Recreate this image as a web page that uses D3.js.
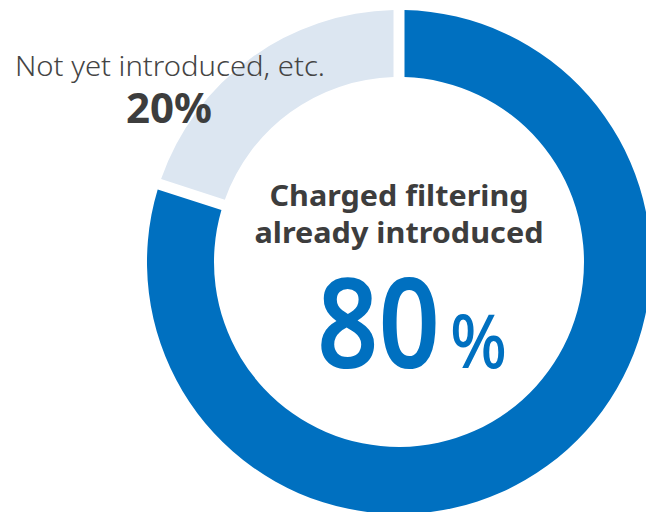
<!DOCTYPE html>
<html>
<head>
<meta charset="utf-8">
<script src="https://cdn.jsdelivr.net/npm/d3@7"></script>
<style>
  html, body { margin: 0; padding: 0; background: #ffffff; }
  svg { display: block; }
</style>
</head>
<body>
<svg id="chart" width="646" height="512"></svg>
<script>
// Share of respondents by status of charged filtering
const categories = ["Charged filtering already introduced", "Not yet introduced, etc."];
const values = [80, 20];
const colors = ["#0070c0", "#dce6f1"];

const svg = d3.select("#chart");
const cx = 399, cy = 262;
const outerR = 252, innerR = 185;

const pie = d3.pie().sort(null).value(d => d);
const arc = d3.arc()
  .innerRadius(innerR)
  .outerRadius(outerR)
  .padRadius(outerR)
  .padAngle(11 / outerR);

const g = svg.append("g").attr("transform", `translate(${cx},${cy})`);

g.selectAll("path")
  .data(pie(values))
  .join("path")
  .attr("d", arc)
  .attr("fill", (d, i) => colors[i]);

const textColor = "#3d3d3d";
const font = "'Noto Sans', 'Open Sans', sans-serif";

// Centre label for the main segment
const mainLines = ["Charged filtering", "already introduced"];
const lineWidths = [259, 289];
g.selectAll("text.main")
  .data(mainLines)
  .join("text")
  .attr("class", "main")
  .attr("x", 0)
  .attr("y", (d, i) => -56 + i * 37)
  .attr("text-anchor", "middle")
  .attr("font-family", font)
  .attr("font-weight", 700)
  .attr("font-size", 28)
  .attr("fill", textColor)
  .attr("textLength", (d, i) => lineWidths[i])
  .attr("lengthAdjust", "spacingAndGlyphs")
  .text(d => d);

// Large percentage figure, number and sign as separate texts
g.append("text")
  .attr("x", -82)
  .attr("y", 106)
  .attr("font-family", font)
  .attr("font-weight", 600)
  .attr("font-size", 124)
  .attr("fill", colors[0])
  .attr("textLength", 123)
  .attr("lengthAdjust", "spacingAndGlyphs")
  .text(values[0]);
g.append("text")
  .attr("x", 51)
  .attr("y", 106)
  .attr("font-family", font)
  .attr("font-weight", 500)
  .attr("font-size", 74)
  .attr("fill", colors[0])
  .attr("textLength", 57)
  .attr("lengthAdjust", "spacingAndGlyphs")
  .text("%");

// Outside label for the smaller segment
const side = svg.append("g").attr("transform", "translate(170,0)");
side.append("text")
  .attr("x", 0)
  .attr("y", 76)
  .attr("text-anchor", "middle")
  .attr("font-family", font)
  .attr("font-weight", 300)
  .attr("font-size", 27)
  .attr("fill", "#444444")
  .attr("textLength", 310)
  .attr("lengthAdjust", "spacingAndGlyphs")
  .text(categories[1]);
side.append("text")
  .attr("x", -1)
  .attr("y", 123)
  .attr("text-anchor", "middle")
  .attr("font-family", font)
  .attr("font-weight", 700)
  .attr("font-size", 41)
  .attr("fill", textColor)
  .attr("textLength", 86)
  .attr("lengthAdjust", "spacingAndGlyphs")
  .text(values[1] + "%");
</script>
</body>
</html>
